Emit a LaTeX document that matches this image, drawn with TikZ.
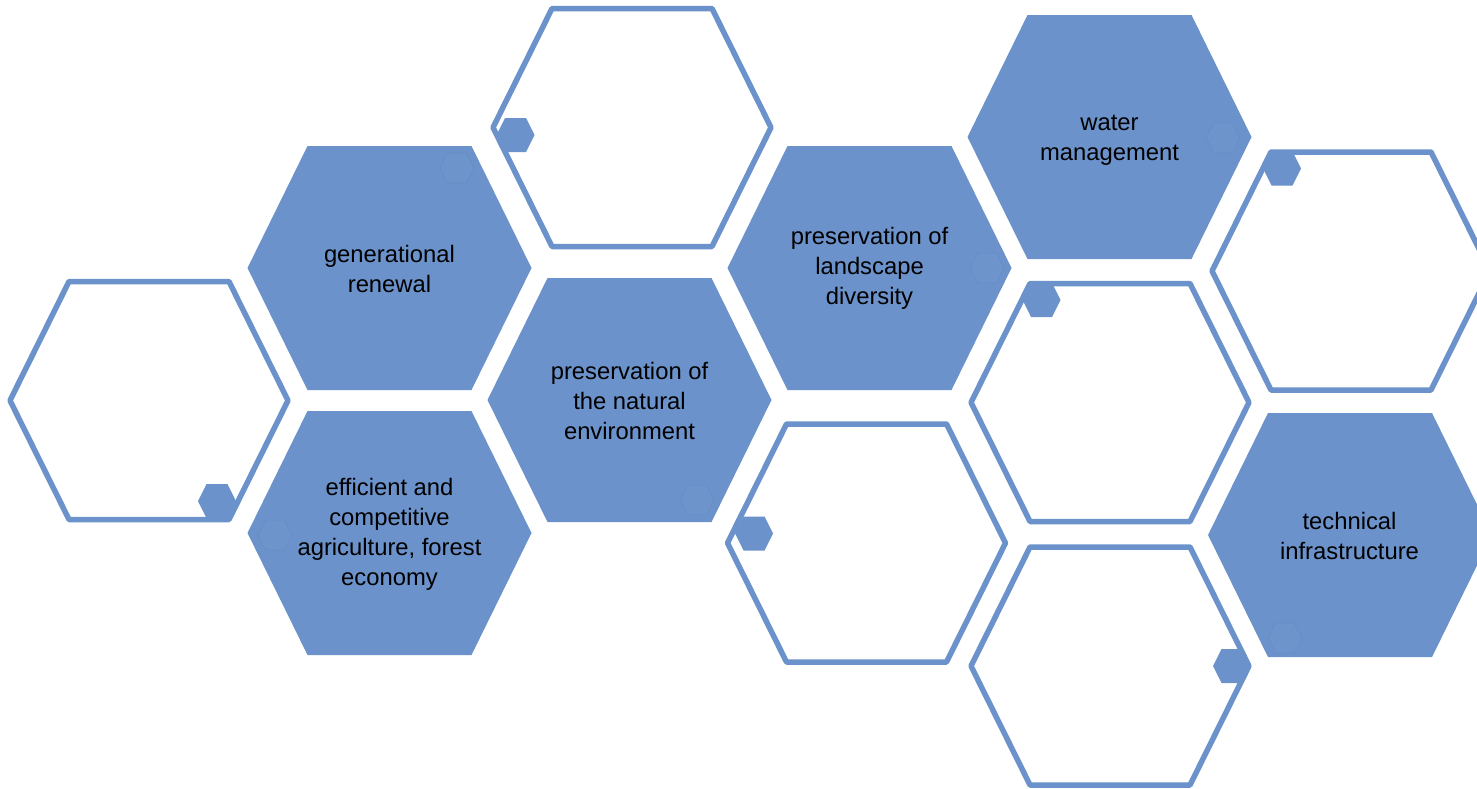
\documentclass[tikz,border=0pt]{standalone}
\usepackage{fontspec}
\setmainfont{Liberation Sans}
\definecolor{hexblue}{RGB}{107,146,202}
\definecolor{faintfill}{RGB}{109,148,203}
\definecolor{faintline}{RGB}{103,142,199}
\begin{document}
\begin{tikzpicture}[x=1pt,y=-1pt,line join=round,
  pics/bighex/.style={code={\path[pic actions] (-142,0) -- (-82,-122) -- (82,-122) -- (142,0) -- (82,122) -- (-82,122) -- cycle;}},
  pics/outhex/.style={code={\path[pic actions] (-139,0) -- (-80,-119) -- (80,-119) -- (139,0) -- (80,119) -- (-80,119) -- cycle;}},
  pics/smallhex/.style={code={\path[pic actions] (-19,0) -- (-10.5,-17) -- (10.5,-17) -- (19,0) -- (10.5,17) -- (-10.5,17) -- cycle;}},
  pics/fainthex/.style={code={\path[pic actions] (-17,0) -- (-9.5,-15) -- (9.5,-15) -- (17,0) -- (9.5,15) -- (-9.5,15) -- cycle;}},
  filledhex/.style={fill=hexblue},
  openhex/.style={draw=hexblue,fill=white,line width=5.5pt},
  tinyhex/.style={fill=hexblue},
  ghosthex/.style={fill=faintfill,draw=faintline,line width=0.8pt},
  lbl/.style={align=center,text=black,font=\fontsize{23.8}{30}\selectfont,inner sep=0pt}]
\clip (0,0) rectangle (1477,788);
\fill[white] (0,0) rectangle (1477,788);
% filled hexagons
\pic[filledhex] at (389.5,268) {bighex};
\pic[filledhex] at (389.5,533) {bighex};
\pic[filledhex] at (629.5,400) {bighex};
\pic[filledhex] at (869.5,268) {bighex};
\pic[filledhex] at (1109.5,137) {bighex};
\pic[filledhex] at (1350,535) {bighex};
% outline hexagons
\pic[openhex] at (149,400.5) {outhex};
\pic[openhex] at (632,127.5) {outhex};
\pic[openhex] at (866.5,543) {outhex};
\pic[openhex] at (1110,402.5) {outhex};
\pic[openhex] at (1351,271) {outhex};
\pic[openhex] at (1110,666) {outhex};
% small solid hexagons
\pic[tinyhex] at (217,501) {smallhex};
\pic[tinyhex] at (515.5,135) {smallhex};
\pic[tinyhex] at (754,533.5) {smallhex};
\pic[tinyhex] at (1041.5,300) {smallhex};
\pic[tinyhex] at (1282,168.5) {smallhex};
\pic[tinyhex] at (1232,666) {smallhex};
% faint hexagons inside filled ones
\pic[ghosthex] at (457,168) {fainthex};
\pic[ghosthex] at (275,535) {fainthex};
\pic[ghosthex] at (697,500) {fainthex};
\pic[ghosthex] at (987,268) {fainthex};
\pic[ghosthex] at (1223,138) {fainthex};
\pic[ghosthex] at (1285,638) {fainthex};
% labels
\node[lbl] (gr) at (389.5,269) {generational\\renewal};
\node[lbl] (ef) at (389.5,534) {efficient and\\competitive\\agriculture, forest\\economy};
\node[lbl] (ne) at (629.5,401) {preservation of\\the natural\\environment};
\node[lbl] (ld) at (869.5,268) {preservation of\\landscape\\diversity};
\node[lbl] (wm) at (1109.5,140) {water\\management};
\node[lbl] (ti) at (1349.5,536) {technical\\infrastructure};
\end{tikzpicture}
\end{document}
